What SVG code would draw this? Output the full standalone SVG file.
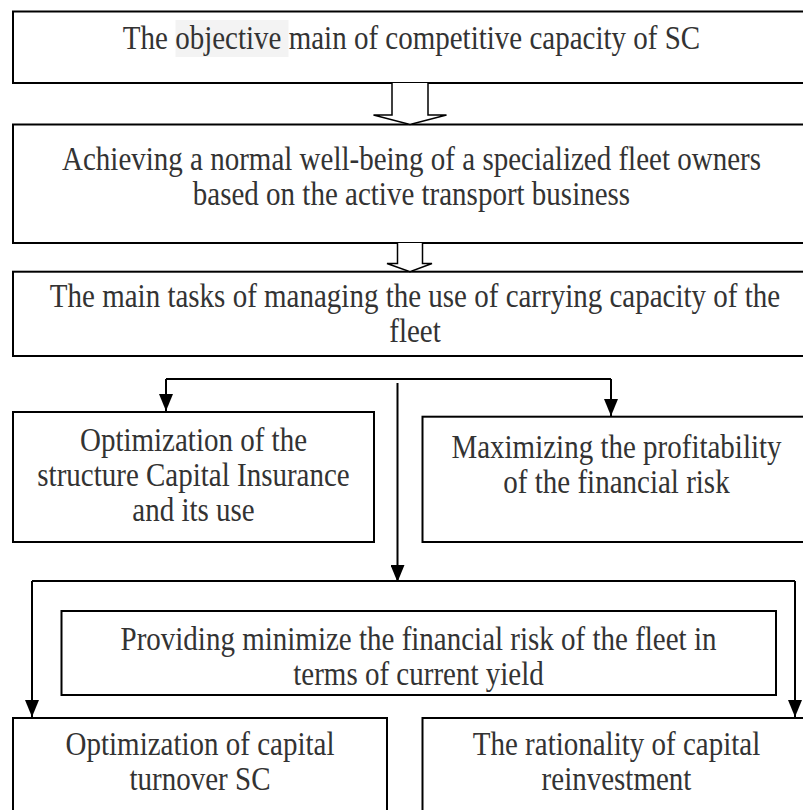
<svg xmlns="http://www.w3.org/2000/svg" width="803" height="810" viewBox="0 0 803 810">
  <style>
    .box { fill: #ffffff; stroke: #000000; stroke-width: 2; }
    .lbl { font-family: "Liberation Serif", "Times New Roman", Times, serif; font-size: 29px; fill: #333333; text-anchor: middle; }
    .wire { fill: none; stroke: #000000; stroke-width: 2; }
    .hollow { fill: #ffffff; stroke: #000000; stroke-width: 1.5; stroke-linejoin: miter; }
  </style>
  <defs>
    <!-- filled head, drawn pointing along +x so orient="auto" turns it down the line -->
    <marker id="tip" viewBox="0 0 17 14" refX="17" refY="7" markerWidth="17" markerHeight="14" markerUnits="userSpaceOnUse" orient="auto">
      <path d="M0,0 L17,7 L0,14 Z" fill="#000000"/>
    </marker>
  </defs>

  <rect width="803" height="810" fill="#ffffff"/>

  <!-- top goal -->
  <g id="goal">
    <rect class="box" x="13" y="11.5" width="800" height="71.5"/>
    <rect x="175.5" y="20" width="113" height="37" fill="#f3f3f3"/>
    <text class="lbl" transform="translate(411.5,49) scale(1,1.15)">The objective main of competitive capacity of SC</text>
  </g>

  <!-- well-being -->
  <g id="wellbeing">
    <rect class="box" x="13" y="124.5" width="800" height="118.5"/>
    <text class="lbl" transform="translate(411.5,170) scale(1,1.15)">Achieving a normal well-being of a specialized fleet owners</text>
    <text class="lbl" transform="translate(411.5,205) scale(1,1.15)">based on the active transport business</text>
  </g>

  <!-- main tasks -->
  <g id="tasks">
    <rect class="box" x="13" y="271.7" width="800" height="84.3"/>
    <text class="lbl" transform="translate(415,307) scale(1,1.15)">The main tasks of managing the use of carrying capacity of the</text>
    <text class="lbl" transform="translate(415,342) scale(1,1.15)">fleet</text>
  </g>

  <!-- capital structure -->
  <g id="structure">
    <rect class="box" x="13" y="412" width="361" height="130"/>
    <text class="lbl" transform="translate(193.5,451) scale(1,1.15)">Optimization of the</text>
    <text class="lbl" transform="translate(193.5,486) scale(1,1.15)">structure Capital Insurance</text>
    <text class="lbl" transform="translate(193.5,521) scale(1,1.15)">and its use</text>
  </g>

  <!-- profitability -->
  <g id="profit">
    <rect class="box" x="422.5" y="416.7" width="390" height="125.3"/>
    <text class="lbl" transform="translate(616.5,458) scale(1,1.15)">Maximizing the profitability</text>
    <text class="lbl" transform="translate(616.5,493) scale(1,1.15)">of the financial risk</text>
  </g>

  <!-- risk -->
  <g id="risk">
    <rect class="box" x="61.5" y="611" width="714.5" height="84"/>
    <text class="lbl" transform="translate(418.5,650) scale(1,1.15)">Providing minimize the financial risk of the fleet in</text>
    <text class="lbl" transform="translate(418.5,685) scale(1,1.15)">terms of current yield</text>
  </g>

  <!-- turnover -->
  <g id="turnover">
    <rect class="box" x="13" y="718" width="374" height="100"/>
    <text class="lbl" transform="translate(200,755) scale(1,1.15)">Optimization of capital</text>
    <text class="lbl" transform="translate(200,790) scale(1,1.15)">turnover SC</text>
  </g>

  <!-- reinvestment -->
  <g id="reinvest">
    <rect class="box" x="422.5" y="718" width="390" height="100"/>
    <text class="lbl" transform="translate(616.5,755) scale(1,1.15)">The rationality of capital</text>
    <text class="lbl" transform="translate(616.5,790) scale(1,1.15)">reinvestment</text>
  </g>

  <!-- connectors -->
  <g id="connectors">
    <path class="hollow" d="M392,83 V115 H373.5 L410,124.5 L446.5,115 H428 V83"/>
    <path class="hollow" d="M397.5,243 V263.5 H387 L410,271.7 L432,263.5 H422.5 V243"/>
    <path class="wire" d="M166,379 H611"/>
    <path class="wire" d="M166,379 V411" marker-end="url(#tip)"/>
    <path class="wire" d="M611,379 V416" marker-end="url(#tip)"/>
    <path class="wire" d="M397.5,383 V582" marker-end="url(#tip)"/>
    <path class="wire" d="M32,581 H795"/>
    <path class="wire" d="M32,581 V717" marker-end="url(#tip)"/>
    <path class="wire" d="M795,581 V717" marker-end="url(#tip)"/>
  </g>
</svg>
